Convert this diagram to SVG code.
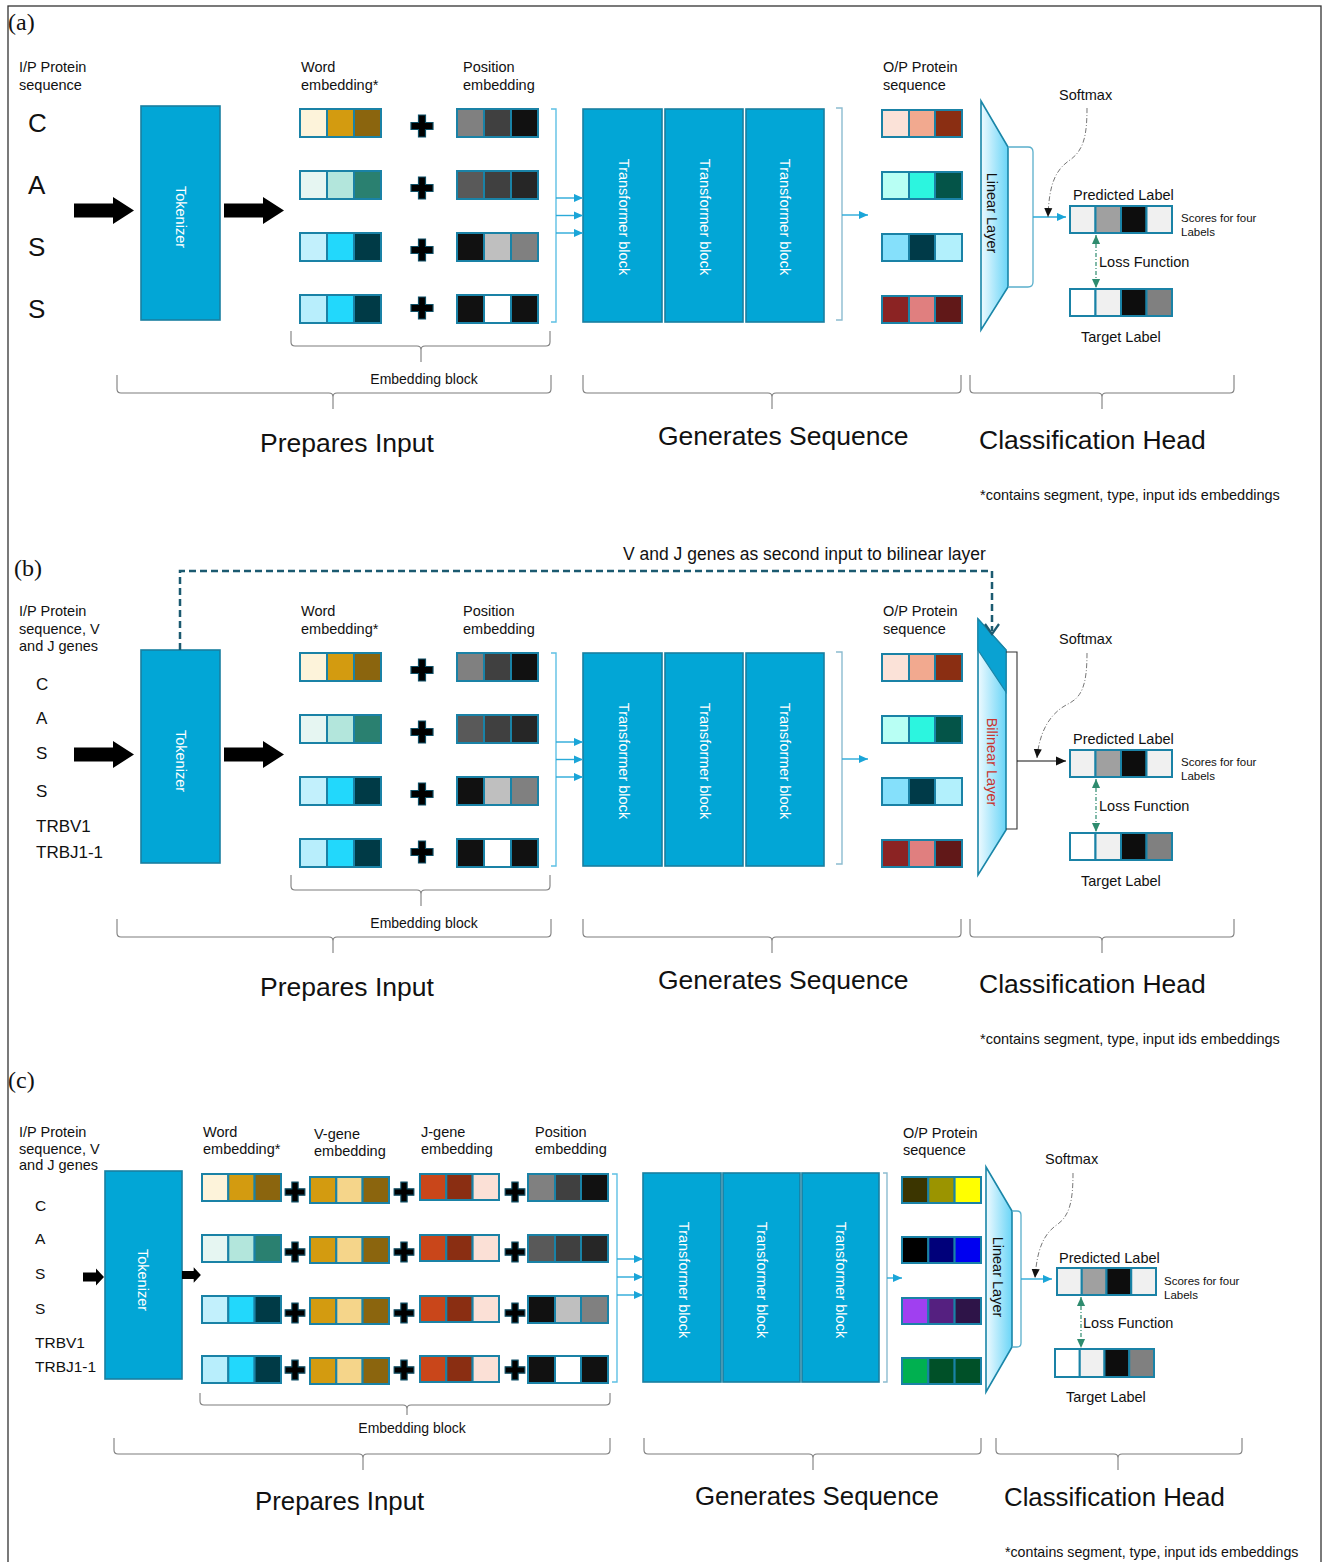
<svg xmlns="http://www.w3.org/2000/svg" width="1323" height="1562" viewBox="0 0 1323 1562">
<style>
text{font-family:"Liberation Sans",Arial,Helvetica,sans-serif;fill:#111}
.lbl{font-size:14.5px}
.sm{font-size:11.5px}
.pn{font-family:"Liberation Serif","Times New Roman",serif;font-size:24px}
.blk{fill:#02A6D6;stroke:#1A7FA0;stroke-width:1.6}
.wt{fill:#fff;font-size:14.5px}
.c{stroke:#1A82A6;stroke-width:2}
.br{fill:none;stroke:#7d7d7d;stroke-width:1.1}
.bb{fill:none;stroke:#5EC0E4;stroke-width:1.4}
.bg{fill:none;stroke:#8CBCD0;stroke-width:1.4}
.ab{fill:none;stroke:#2AAAD8;stroke-width:1.4;marker-end:url(#mb)}
.ak{fill:none;stroke:#111;stroke-width:1.2;marker-end:url(#mk2)}
.plus{fill:#000;stroke:#0E4F66;stroke-width:1.2}
.sfx{fill:none;stroke:#777;stroke-width:1;stroke-dasharray:5 2 1 2;marker-end:url(#mk)}
.loss{fill:none;stroke:#2E8B6E;stroke-width:1.2;stroke-dasharray:4 2 1 2;marker-start:url(#mg);marker-end:url(#mg)}
.lin{fill:url(#gl);stroke:#1A86A8;stroke-width:1.6}
.arr{fill:#000}
.lb{fill:none;stroke:#5AAFCB;stroke-width:1.3}
.sec{font-size:26.5px}
.sec2{font-size:25.8px}
</style>
<defs>
<linearGradient id="gl" x1="0" y1="0" x2="1" y2="0"><stop offset="0" stop-color="#EEFAFF"/><stop offset="1" stop-color="#6AD5F7"/></linearGradient>
<marker id="mb" markerUnits="userSpaceOnUse" markerWidth="9" markerHeight="9" viewBox="0 0 10 10" refX="10" refY="5" orient="auto"><path d="M0,0.5 L10,5 L0,9.5 z" fill="#1AA5D8"/></marker>
<marker id="mk2" markerUnits="userSpaceOnUse" markerWidth="10" markerHeight="10" viewBox="0 0 10 10" refX="10" refY="5" orient="auto"><path d="M0,0.5 L10,5 L0,9.5 z" fill="#111"/></marker>
<marker id="mk" markerUnits="userSpaceOnUse" markerWidth="9" markerHeight="9" viewBox="0 0 10 10" refX="10" refY="5" orient="auto"><path d="M0,0.5 L10,5 L0,9.5 z" fill="#111"/></marker>
<marker id="mg" markerUnits="userSpaceOnUse" markerWidth="9" markerHeight="9" viewBox="0 0 10 10" refX="10" refY="5" orient="auto-start-reverse"><path d="M0,0.5 L10,5 L0,9.5 z" fill="#2E8B6E"/></marker>
<path id="plus" d="M-3.5,-11 h7 v7.5 h7.5 v7 h-7.5 v7.5 h-7 v-7.5 h-7.5 v-7 h7.5 z"/>
<path id="barrow" d="M0,-7 H39 V-13.5 L60,0 L39,13.5 V7 H0 Z"/>
<path id="sarrow" d="M0,-4.5 H13 V-8.5 L21,0 L13,8.5 V4.5 H0 Z"/>
</defs>

<rect x="8" y="6" width="1313" height="1570" fill="none" stroke="#333" stroke-width="1.3"/>

<!-- ================= PANEL A ================= -->
<g id="a-title"><text class="pn" x="8" y="30">(a)</text></g>

<g id="a-input">
<text class="lbl" x="19" y="72">I/P Protein<tspan x="19" dy="17.5">sequence</tspan></text>
<text x="28" y="132" font-size="26">C</text>
<text x="28" y="194" font-size="26">A</text>
<text x="28" y="256" font-size="26">S</text>
<text x="28" y="318" font-size="26">S</text>
</g>

<g id="a-tokenizer">
<rect class="blk" x="141" y="106" width="79" height="214"/>
<text class="wt" transform="translate(180.5,217) rotate(90)" text-anchor="middle" y="5">Tokenizer</text>
</g>

<g id="a-word-emb">
<text class="lbl" x="301" y="72">Word<tspan x="301" dy="17.5">embedding*</tspan></text>
<g transform="translate(300,109)"><rect class="c" width="27" height="28" fill="#FDF3DA"/><rect class="c" x="27" width="27" height="28" fill="#D39B10"/><rect class="c" x="54" width="27" height="28" fill="#8B650E"/></g>
<g transform="translate(300,171)"><rect class="c" width="27" height="28" fill="#E6F6F2"/><rect class="c" x="27" width="27" height="28" fill="#B3E6DC"/><rect class="c" x="54" width="27" height="28" fill="#2A8070"/></g>
<g transform="translate(300,233)"><rect class="c" width="27" height="28" fill="#C2F0FC"/><rect class="c" x="27" width="27" height="28" fill="#22D8FC"/><rect class="c" x="54" width="27" height="28" fill="#003A46"/></g>
<g transform="translate(300,295)"><rect class="c" width="27" height="28" fill="#B8EEFC"/><rect class="c" x="27" width="27" height="28" fill="#22D8FC"/><rect class="c" x="54" width="27" height="28" fill="#003A46"/></g>
</g>

<g id="a-plus">
<use href="#plus" class="plus" x="422" y="126"/>
<use href="#plus" class="plus" x="422" y="188"/>
<use href="#plus" class="plus" x="422" y="250"/>
<use href="#plus" class="plus" x="422" y="308"/>
</g>

<g id="a-pos-emb">
<text class="lbl" x="463" y="72">Position<tspan x="463" dy="17.5">embedding</tspan></text>
<g transform="translate(457,109)"><rect class="c" width="27" height="28" fill="#808080"/><rect class="c" x="27" width="27" height="28" fill="#404040"/><rect class="c" x="54" width="27" height="28" fill="#111111"/></g>
<g transform="translate(457,171)"><rect class="c" width="27" height="28" fill="#595959"/><rect class="c" x="27" width="27" height="28" fill="#404040"/><rect class="c" x="54" width="27" height="28" fill="#262626"/></g>
<g transform="translate(457,233)"><rect class="c" width="27" height="28" fill="#111111"/><rect class="c" x="27" width="27" height="28" fill="#BFBFBF"/><rect class="c" x="54" width="27" height="28" fill="#808080"/></g>
<g transform="translate(457,295)"><rect class="c" width="27" height="28" fill="#111111"/><rect class="c" x="27" width="27" height="28" fill="#FFFFFF"/><rect class="c" x="54" width="27" height="28" fill="#111111"/></g>
</g>

<g id="a-transformer-1"><rect class="blk" x="583" y="109" width="79" height="213"/><text class="wt" transform="translate(624,217) rotate(90)" text-anchor="middle" y="5">Transformer block</text></g>
<g id="a-transformer-2"><rect class="blk" x="665" y="109" width="78" height="213"/><text class="wt" transform="translate(705,217) rotate(90)" text-anchor="middle" y="5">Transformer block</text></g>
<g id="a-transformer-3"><rect class="blk" x="746" y="109" width="78" height="213"/><text class="wt" transform="translate(785,217) rotate(90)" text-anchor="middle" y="5">Transformer block</text></g>

<g id="a-output">
<text class="lbl" x="883" y="72">O/P Protein<tspan x="883" dy="17.5">sequence</tspan></text>
<g transform="translate(882,110)"><rect class="c" width="27" height="27" fill="#FBE2D8"/><rect class="c" x="27" width="26" height="27" fill="#F2A98F"/><rect class="c" x="53" width="27" height="27" fill="#8A2E12"/></g>
<g transform="translate(882,172)"><rect class="c" width="27" height="27" fill="#B8FFF4"/><rect class="c" x="27" width="26" height="27" fill="#2CF5DF"/><rect class="c" x="53" width="27" height="27" fill="#045448"/></g>
<g transform="translate(882,234)"><rect class="c" width="27" height="27" fill="#85E0FB"/><rect class="c" x="27" width="26" height="27" fill="#003A48"/><rect class="c" x="53" width="27" height="27" fill="#B2F0FC"/></g>
<g transform="translate(882,296)"><rect class="c" width="27" height="27" fill="#8B2323"/><rect class="c" x="27" width="26" height="27" fill="#E07F7F"/><rect class="c" x="53" width="27" height="27" fill="#611818"/></g>
</g>

<g id="a-linear">
<polygon class="lin" points="981,101 1008,147 1008,287 981,330"/>
<text class="lbl" transform="translate(992,213) rotate(90)" text-anchor="middle" y="5">Linear Layer</text>
</g>

<g id="a-softmax"><text class="lbl" x="1059" y="100">Softmax</text></g>

<g id="a-predicted">
<text class="lbl" x="1073" y="200">Predicted Label</text>
<g transform="translate(1070,206)"><rect class="c" width="25.5" height="27" fill="#F0F0F0"/><rect class="c" x="25.5" width="25.5" height="27" fill="#A0A0A0"/><rect class="c" x="51" width="25.5" height="27" fill="#0D0D0D"/><rect class="c" x="76.5" width="25.5" height="27" fill="#F0F0F0"/></g>
<text class="sm" x="1181" y="222">Scores for four<tspan x="1181" dy="14">Labels</tspan></text>
</g>

<g id="a-target">
<g transform="translate(1070,289)"><rect class="c" width="25.5" height="27" fill="#FFFFFF"/><rect class="c" x="25.5" width="25.5" height="27" fill="#F0F0F0"/><rect class="c" x="51" width="25.5" height="27" fill="#0D0D0D"/><rect class="c" x="76.5" width="25.5" height="27" fill="#808080"/></g>
<text class="lbl" x="1081" y="342">Target Label</text>
</g>

<g id="a-loss"><text class="lbl" x="1099" y="267">Loss Function</text></g>

<g id="a-sections">
<path class="br" d="M291,331 V342 Q291,346 295,346 H417 Q421,346 421,350 V362 M421,350 Q421,346 425,346 H546 Q550,346 550,342 V331"/>
<text x="424" y="384" font-size="14" text-anchor="middle">Embedding block</text>
<path class="br" d="M117,375 V389 Q117,393 121,393 H329 Q333,393 333,397 V409 M333,397 Q333,393 337,393 H547 Q551,393 551,389 V375"/>
<path class="br" d="M583,375 V389 Q583,393 587,393 H768 Q772,393 772,397 V409 M772,397 Q772,393 776,393 H957 Q961,393 961,389 V375"/>
<path class="br" d="M970,375 V389 Q970,393 974,393 H1098 Q1102,393 1102,397 V409 M1102,397 Q1102,393 1106,393 H1230 Q1234,393 1234,389 V375"/>
<text class="sec" x="260" y="452">Prepares Input</text>
<text class="sec" x="658" y="445">Generates Sequence</text>
<text class="sec" x="979" y="449">Classification Head</text>
<text x="980" y="500" font-size="14.5">*contains segment, type, input ids embeddings</text>
</g>

<g id="a-connectors">
<use href="#barrow" class="arr" x="74" y="210.5"/>
<use href="#barrow" class="arr" x="224" y="210.5"/>
<path class="bb" d="M551,109 H556 V322 H551"/>
<path class="ab" d="M556,198 H583"/>
<path class="ab" d="M556,215.5 H583"/>
<path class="ab" d="M556,233 H583"/>
<path class="bg" d="M836,108 H842 V320 H836"/>
<path class="ab" d="M842,215 H868"/>
<path class="lb" d="M1008,147 H1028 Q1033,147 1033,152 V282 Q1033,287 1028,287 H1008"/>
<path class="ab" d="M1033,217 H1066"/>
<path class="sfx" d="M1087,108 C1087,135 1084,150 1070,160 C1055,170 1049,185 1048,217"/>
<path class="loss" d="M1096,235 V288"/>
</g>

<!-- ================= PANEL B ================= -->
<g id="b-title"><text class="pn" x="14" y="576">(b)</text></g>

<g id="b-input">
<text class="lbl" x="19" y="616">I/P Protein<tspan x="19" dy="17.5">sequence, V</tspan><tspan x="19" dy="17.5">and J genes</tspan></text>
<text x="36" y="690" font-size="17">C</text>
<text x="36" y="724" font-size="17">A</text>
<text x="36" y="759" font-size="17">S</text>
<text x="36" y="797" font-size="17">S</text>
<text x="36" y="832" font-size="17">TRBV1</text>
<text x="36" y="858" font-size="17">TRBJ1-1</text>
</g>

<g id="b-tokenizer">
<rect class="blk" x="141" y="650" width="79" height="213"/>
<text class="wt" transform="translate(180.5,761) rotate(90)" text-anchor="middle" y="5">Tokenizer</text>
</g>

<g id="b-word-emb" transform="translate(0,544)">
<text class="lbl" x="301" y="72">Word<tspan x="301" dy="17.5">embedding*</tspan></text>
<g transform="translate(300,109)"><rect class="c" width="27" height="28" fill="#FDF3DA"/><rect class="c" x="27" width="27" height="28" fill="#D39B10"/><rect class="c" x="54" width="27" height="28" fill="#8B650E"/></g>
<g transform="translate(300,171)"><rect class="c" width="27" height="28" fill="#E6F6F2"/><rect class="c" x="27" width="27" height="28" fill="#B3E6DC"/><rect class="c" x="54" width="27" height="28" fill="#2A8070"/></g>
<g transform="translate(300,233)"><rect class="c" width="27" height="28" fill="#C2F0FC"/><rect class="c" x="27" width="27" height="28" fill="#22D8FC"/><rect class="c" x="54" width="27" height="28" fill="#003A46"/></g>
<g transform="translate(300,295)"><rect class="c" width="27" height="28" fill="#B8EEFC"/><rect class="c" x="27" width="27" height="28" fill="#22D8FC"/><rect class="c" x="54" width="27" height="28" fill="#003A46"/></g>
</g>

<g id="b-plus" transform="translate(0,544)">
<use href="#plus" class="plus" x="422" y="126"/>
<use href="#plus" class="plus" x="422" y="188"/>
<use href="#plus" class="plus" x="422" y="250"/>
<use href="#plus" class="plus" x="422" y="308"/>
</g>

<g id="b-pos-emb" transform="translate(0,544)">
<text class="lbl" x="463" y="72">Position<tspan x="463" dy="17.5">embedding</tspan></text>
<g transform="translate(457,109)"><rect class="c" width="27" height="28" fill="#808080"/><rect class="c" x="27" width="27" height="28" fill="#404040"/><rect class="c" x="54" width="27" height="28" fill="#111111"/></g>
<g transform="translate(457,171)"><rect class="c" width="27" height="28" fill="#595959"/><rect class="c" x="27" width="27" height="28" fill="#404040"/><rect class="c" x="54" width="27" height="28" fill="#262626"/></g>
<g transform="translate(457,233)"><rect class="c" width="27" height="28" fill="#111111"/><rect class="c" x="27" width="27" height="28" fill="#BFBFBF"/><rect class="c" x="54" width="27" height="28" fill="#808080"/></g>
<g transform="translate(457,295)"><rect class="c" width="27" height="28" fill="#111111"/><rect class="c" x="27" width="27" height="28" fill="#FFFFFF"/><rect class="c" x="54" width="27" height="28" fill="#111111"/></g>
</g>

<g id="b-transformer-1"><rect class="blk" x="583" y="653" width="79" height="213"/><text class="wt" transform="translate(624,761) rotate(90)" text-anchor="middle" y="5">Transformer block</text></g>
<g id="b-transformer-2"><rect class="blk" x="665" y="653" width="78" height="213"/><text class="wt" transform="translate(705,761) rotate(90)" text-anchor="middle" y="5">Transformer block</text></g>
<g id="b-transformer-3"><rect class="blk" x="746" y="653" width="78" height="213"/><text class="wt" transform="translate(785,761) rotate(90)" text-anchor="middle" y="5">Transformer block</text></g>

<g id="b-output" transform="translate(0,544)">
<text class="lbl" x="883" y="72">O/P Protein<tspan x="883" dy="17.5">sequence</tspan></text>
<g transform="translate(882,110)"><rect class="c" width="27" height="27" fill="#FBE2D8"/><rect class="c" x="27" width="26" height="27" fill="#F2A98F"/><rect class="c" x="53" width="27" height="27" fill="#8A2E12"/></g>
<g transform="translate(882,172)"><rect class="c" width="27" height="27" fill="#B8FFF4"/><rect class="c" x="27" width="26" height="27" fill="#2CF5DF"/><rect class="c" x="53" width="27" height="27" fill="#045448"/></g>
<g transform="translate(882,234)"><rect class="c" width="27" height="27" fill="#85E0FB"/><rect class="c" x="27" width="26" height="27" fill="#003A48"/><rect class="c" x="53" width="27" height="27" fill="#B2F0FC"/></g>
<g transform="translate(882,296)"><rect class="c" width="27" height="27" fill="#8B2323"/><rect class="c" x="27" width="26" height="27" fill="#E07F7F"/><rect class="c" x="53" width="27" height="27" fill="#611818"/></g>
</g>

<g id="b-bilinear">
<polygon class="lin" points="978,619 1006,650 1006,830 978,875"/>
<polygon points="978,619 1006,650 1006,692 978,650" fill="#0AA2D2" stroke="#1A86A8" stroke-width="1.2"/>
<text transform="translate(991.5,762) rotate(90)" text-anchor="middle" y="5" font-size="14.5" style="fill:#C8352F">Bilinear Layer</text>
</g>

<g id="b-softmax"><text class="lbl" x="1059" y="644">Softmax</text></g>

<g id="b-predicted" transform="translate(0,544)">
<text class="lbl" x="1073" y="200">Predicted Label</text>
<g transform="translate(1070,206)"><rect class="c" width="25.5" height="27" fill="#F0F0F0"/><rect class="c" x="25.5" width="25.5" height="27" fill="#A0A0A0"/><rect class="c" x="51" width="25.5" height="27" fill="#0D0D0D"/><rect class="c" x="76.5" width="25.5" height="27" fill="#F0F0F0"/></g>
<text class="sm" x="1181" y="222">Scores for four<tspan x="1181" dy="14">Labels</tspan></text>
</g>

<g id="b-target" transform="translate(0,544)">
<g transform="translate(1070,289)"><rect class="c" width="25.5" height="27" fill="#FFFFFF"/><rect class="c" x="25.5" width="25.5" height="27" fill="#F0F0F0"/><rect class="c" x="51" width="25.5" height="27" fill="#0D0D0D"/><rect class="c" x="76.5" width="25.5" height="27" fill="#808080"/></g>
<text class="lbl" x="1081" y="342">Target Label</text>
</g>

<g id="b-loss"><text class="lbl" x="1099" y="811">Loss Function</text></g>

<g id="b-sections" transform="translate(0,544)">
<path class="br" d="M291,331 V342 Q291,346 295,346 H417 Q421,346 421,350 V362 M421,350 Q421,346 425,346 H546 Q550,346 550,342 V331"/>
<text x="424" y="384" font-size="14" text-anchor="middle">Embedding block</text>
<path class="br" d="M117,375 V389 Q117,393 121,393 H329 Q333,393 333,397 V409 M333,397 Q333,393 337,393 H547 Q551,393 551,389 V375"/>
<path class="br" d="M583,375 V389 Q583,393 587,393 H768 Q772,393 772,397 V409 M772,397 Q772,393 776,393 H957 Q961,393 961,389 V375"/>
<path class="br" d="M970,375 V389 Q970,393 974,393 H1098 Q1102,393 1102,397 V409 M1102,397 Q1102,393 1106,393 H1230 Q1234,393 1234,389 V375"/>
<text class="sec" x="260" y="452">Prepares Input</text>
<text class="sec" x="658" y="445">Generates Sequence</text>
<text class="sec" x="979" y="449">Classification Head</text>
<text x="980" y="500" font-size="14.5">*contains segment, type, input ids embeddings</text>
</g>

<g id="b-connectors">
<use href="#barrow" class="arr" x="74" y="754.5"/>
<use href="#barrow" class="arr" x="224" y="754.5"/>
<path class="bb" d="M551,653 H556 V866 H551"/>
<path class="ab" d="M556,742 H583"/>
<path class="ab" d="M556,759.5 H583"/>
<path class="ab" d="M556,777 H583"/>
<path class="bg" d="M836,652 H842 V864 H836"/>
<path class="ab" d="M842,759 H868"/>
<path fill="none" stroke="#333" stroke-width="1.1" d="M1006,652 H1017 V829 H1006"/>
<path class="ak" d="M1017,761 H1066"/>
<path class="sfx" d="M1087,653 C1087,685 1082,697 1068,704 C1048,714 1039,735 1037,758"/>
<path class="loss" d="M1096,779 V832"/>
<path fill="none" stroke="#1B5A70" stroke-width="2.5" stroke-dasharray="7 4" d="M180,650 V571 H992 V631"/>
<path fill="none" stroke="#1B5A70" stroke-width="2.2" d="M985,624 L992,634 L999,624"/>
<text x="623" y="560" font-size="17.5">V and J genes as second input to bilinear layer</text>
</g>

<!-- ================= PANEL C ================= -->
<g id="c-title"><text class="pn" x="8" y="1088">(c)</text></g>

<g id="c-input">
<text class="lbl" x="19" y="1137">I/P Protein<tspan x="19" dy="16.5">sequence, V</tspan><tspan x="19" dy="16.5">and J genes</tspan></text>
<text x="35" y="1211" font-size="15.5">C</text>
<text x="35" y="1244" font-size="15.5">A</text>
<text x="35" y="1279" font-size="15.5">S</text>
<text x="35" y="1314" font-size="15.5">S</text>
<text x="35" y="1348" font-size="15.5">TRBV1</text>
<text x="35" y="1372" font-size="15.5">TRBJ1-1</text>
</g>

<g id="c-tokenizer">
<rect class="blk" x="105" y="1171" width="77" height="208"/>
<text class="wt" transform="translate(143,1280) rotate(90)" text-anchor="middle" y="5">Tokenizer</text>
</g>

<g id="c-word-emb">
<text class="lbl" x="203" y="1137">Word<tspan x="203" dy="16.5">embedding*</tspan></text>
<g transform="translate(202,1174)"><rect class="c" width="26.3" height="27" fill="#FDF3DA"/><rect class="c" x="26.3" width="26.3" height="27" fill="#D39B10"/><rect class="c" x="52.6" width="26.4" height="27" fill="#8B650E"/></g>
<g transform="translate(202,1235)"><rect class="c" width="26.3" height="27" fill="#E6F6F2"/><rect class="c" x="26.3" width="26.3" height="27" fill="#B3E6DC"/><rect class="c" x="52.6" width="26.4" height="27" fill="#2A8070"/></g>
<g transform="translate(202,1296)"><rect class="c" width="26.3" height="27" fill="#C2F0FC"/><rect class="c" x="26.3" width="26.3" height="27" fill="#22D8FC"/><rect class="c" x="52.6" width="26.4" height="27" fill="#003A46"/></g>
<g transform="translate(202,1356)"><rect class="c" width="26.3" height="27" fill="#B8EEFC"/><rect class="c" x="26.3" width="26.3" height="27" fill="#22D8FC"/><rect class="c" x="52.6" width="26.4" height="27" fill="#003A46"/></g>
</g>

<g id="c-vgene-emb">
<text class="lbl" x="314" y="1139">V-gene<tspan x="314" dy="16.5">embedding</tspan></text>
<g transform="translate(310,1177)"><rect class="c" width="26.3" height="26" fill="#D39B10"/><rect class="c" x="26.3" width="26.3" height="26" fill="#F5D58A"/><rect class="c" x="52.6" width="26.4" height="26" fill="#8B650E"/></g>
<g transform="translate(310,1237)"><rect class="c" width="26.3" height="26" fill="#D39B10"/><rect class="c" x="26.3" width="26.3" height="26" fill="#F5D58A"/><rect class="c" x="52.6" width="26.4" height="26" fill="#8B650E"/></g>
<g transform="translate(310,1298)"><rect class="c" width="26.3" height="26" fill="#D39B10"/><rect class="c" x="26.3" width="26.3" height="26" fill="#F5D58A"/><rect class="c" x="52.6" width="26.4" height="26" fill="#8B650E"/></g>
<g transform="translate(310,1358)"><rect class="c" width="26.3" height="26" fill="#D39B10"/><rect class="c" x="26.3" width="26.3" height="26" fill="#F5D58A"/><rect class="c" x="52.6" width="26.4" height="26" fill="#8B650E"/></g>
</g>

<g id="c-jgene-emb">
<text class="lbl" x="421" y="1137">J-gene<tspan x="421" dy="16.5">embedding</tspan></text>
<g transform="translate(420,1174)"><rect class="c" width="26.3" height="26" fill="#C9461A"/><rect class="c" x="26.3" width="26.3" height="26" fill="#8A2E12"/><rect class="c" x="52.6" width="26.4" height="26" fill="#FBE0D6"/></g>
<g transform="translate(420,1235)"><rect class="c" width="26.3" height="26" fill="#C9461A"/><rect class="c" x="26.3" width="26.3" height="26" fill="#8A2E12"/><rect class="c" x="52.6" width="26.4" height="26" fill="#FBE0D6"/></g>
<g transform="translate(420,1296)"><rect class="c" width="26.3" height="26" fill="#C9461A"/><rect class="c" x="26.3" width="26.3" height="26" fill="#8A2E12"/><rect class="c" x="52.6" width="26.4" height="26" fill="#FBE0D6"/></g>
<g transform="translate(420,1356)"><rect class="c" width="26.3" height="26" fill="#C9461A"/><rect class="c" x="26.3" width="26.3" height="26" fill="#8A2E12"/><rect class="c" x="52.6" width="26.4" height="26" fill="#FBE0D6"/></g>
</g>

<g id="c-plus">
<use href="#plus" class="plus" transform="translate(295,1192) scale(0.9)"/>
<use href="#plus" class="plus" transform="translate(295,1252) scale(0.9)"/>
<use href="#plus" class="plus" transform="translate(295,1313) scale(0.9)"/>
<use href="#plus" class="plus" transform="translate(295,1370) scale(0.9)"/>
<use href="#plus" class="plus" transform="translate(404,1192) scale(0.9)"/>
<use href="#plus" class="plus" transform="translate(404,1252) scale(0.9)"/>
<use href="#plus" class="plus" transform="translate(404,1313) scale(0.9)"/>
<use href="#plus" class="plus" transform="translate(404,1370) scale(0.9)"/>
<use href="#plus" class="plus" transform="translate(515,1192) scale(0.9)"/>
<use href="#plus" class="plus" transform="translate(515,1252) scale(0.9)"/>
<use href="#plus" class="plus" transform="translate(515,1313) scale(0.9)"/>
<use href="#plus" class="plus" transform="translate(515,1370) scale(0.9)"/>
</g>

<g id="c-pos-emb">
<text class="lbl" x="535" y="1137">Position<tspan x="535" dy="16.5">embedding</tspan></text>
<g transform="translate(528,1174)"><rect class="c" width="27" height="27" fill="#808080"/><rect class="c" x="27" width="26" height="27" fill="#404040"/><rect class="c" x="53" width="27" height="27" fill="#111111"/></g>
<g transform="translate(528,1235)"><rect class="c" width="27" height="27" fill="#595959"/><rect class="c" x="27" width="26" height="27" fill="#404040"/><rect class="c" x="53" width="27" height="27" fill="#262626"/></g>
<g transform="translate(528,1296)"><rect class="c" width="27" height="27" fill="#111111"/><rect class="c" x="27" width="26" height="27" fill="#BFBFBF"/><rect class="c" x="53" width="27" height="27" fill="#808080"/></g>
<g transform="translate(528,1356)"><rect class="c" width="27" height="27" fill="#111111"/><rect class="c" x="27" width="26" height="27" fill="#FFFFFF"/><rect class="c" x="53" width="27" height="27" fill="#111111"/></g>
</g>

<g id="c-transformer-1"><rect class="blk" x="643" y="1173" width="78" height="209"/><text class="wt" transform="translate(684,1280) rotate(90)" text-anchor="middle" y="5">Transformer block</text></g>
<g id="c-transformer-2"><rect class="blk" x="723" y="1173" width="77" height="209"/><text class="wt" transform="translate(762,1280) rotate(90)" text-anchor="middle" y="5">Transformer block</text></g>
<g id="c-transformer-3"><rect class="blk" x="802" y="1173" width="77" height="209"/><text class="wt" transform="translate(841,1280) rotate(90)" text-anchor="middle" y="5">Transformer block</text></g>

<g id="c-output">
<text class="lbl" x="903" y="1138">O/P Protein<tspan x="903" dy="16.5">sequence</tspan></text>
<g transform="translate(902,1177)"><rect class="c" width="26.3" height="26" fill="#3B3500"/><rect class="c" x="26.3" width="26.3" height="26" fill="#9B9400"/><rect class="c" x="52.6" width="26.4" height="26" fill="#FFFF00"/></g>
<g transform="translate(902,1237)"><rect class="c" width="26.3" height="26" fill="#000000"/><rect class="c" x="26.3" width="26.3" height="26" fill="#00007A"/><rect class="c" x="52.6" width="26.4" height="26" fill="#0000F0"/></g>
<g transform="translate(902,1298)"><rect class="c" width="26.3" height="26" fill="#A040F0"/><rect class="c" x="26.3" width="26.3" height="26" fill="#552080"/><rect class="c" x="52.6" width="26.4" height="26" fill="#2E1448"/></g>
<g transform="translate(902,1358)"><rect class="c" width="26.3" height="26" fill="#00B050"/><rect class="c" x="26.3" width="26.3" height="26" fill="#005028"/><rect class="c" x="52.6" width="26.4" height="26" fill="#005028"/></g>
</g>

<g id="c-linear">
<polygon class="lin" points="986,1167 1012,1211 1012,1347 986,1392"/>
<text class="lbl" transform="translate(998,1277) rotate(90)" text-anchor="middle" y="5">Linear Layer</text>
</g>

<g id="c-softmax"><text class="lbl" x="1045" y="1164">Softmax</text></g>

<g id="c-predicted">
<text class="lbl" x="1059" y="1263">Predicted Label</text>
<g transform="translate(1057,1268)"><rect class="c" width="24.75" height="27" fill="#F0F0F0"/><rect class="c" x="24.75" width="24.75" height="27" fill="#A0A0A0"/><rect class="c" x="49.5" width="24.75" height="27" fill="#0D0D0D"/><rect class="c" x="74.25" width="24.75" height="27" fill="#F0F0F0"/></g>
<text class="sm" x="1164" y="1285">Scores for four<tspan x="1164" dy="14">Labels</tspan></text>
</g>

<g id="c-target">
<g transform="translate(1055,1349)"><rect class="c" width="24.75" height="28" fill="#FFFFFF"/><rect class="c" x="24.75" width="24.75" height="28" fill="#F0F0F0"/><rect class="c" x="49.5" width="24.75" height="28" fill="#0D0D0D"/><rect class="c" x="74.25" width="24.75" height="28" fill="#808080"/></g>
<text class="lbl" x="1066" y="1402">Target Label</text>
</g>

<g id="c-loss"><text class="lbl" x="1083" y="1328">Loss Function</text></g>

<g id="c-sections">
<path class="br" d="M200,1393 V1401 Q200,1405 204,1405 H403 Q407,1405 407,1409 V1415 M407,1409 Q407,1405 411,1405 H606 Q610,1405 610,1401 V1393"/>
<text x="412" y="1433" font-size="14" text-anchor="middle">Embedding block</text>
<path class="br" d="M114,1438 V1450 Q114,1454 118,1454 H359 Q363,1454 363,1458 V1470 M363,1458 Q363,1454 367,1454 H606 Q610,1454 610,1450 V1438"/>
<path class="br" d="M644,1438 V1450 Q644,1454 648,1454 H809 Q813,1454 813,1458 V1470 M813,1458 Q813,1454 817,1454 H977 Q981,1454 981,1450 V1438"/>
<path class="br" d="M996,1438 V1450 Q996,1454 1000,1454 H1114 Q1118,1454 1118,1458 V1470 M1118,1458 Q1118,1454 1122,1454 H1238 Q1242,1454 1242,1450 V1438"/>
<text class="sec2" x="255" y="1510">Prepares Input</text>
<text class="sec2" x="695" y="1505">Generates Sequence</text>
<text class="sec2" x="1004" y="1506">Classification Head</text>
<text x="1005" y="1557" font-size="14.2">*contains segment, type, input ids embeddings</text>
</g>

<g id="c-connectors">
<use href="#sarrow" class="arr" x="83" y="1277"/>
<use href="#sarrow" class="arr" transform="translate(182,1275) scale(0.9)"/>
<path class="bb" d="M612,1174 H617 V1382 H612"/>
<path class="ab" d="M617,1259 H643"/>
<path class="ab" d="M617,1277 H643"/>
<path class="ab" d="M617,1295 H643"/>
<path class="bg" d="M883,1173 H887 V1382 H883"/>
<path class="ab" d="M887,1278 H902"/>
<path class="lb" d="M1012,1211 H1017 Q1021,1211 1021,1215 V1343 Q1021,1347 1017,1347 H1012"/>
<path class="ab" d="M1021,1279 H1052"/>
<path class="sfx" d="M1073,1173 C1073,1200 1070,1215 1058,1224 C1043,1234 1037,1250 1035,1278"/>
<path class="loss" d="M1081,1297 V1348"/>
</g>
</svg>
